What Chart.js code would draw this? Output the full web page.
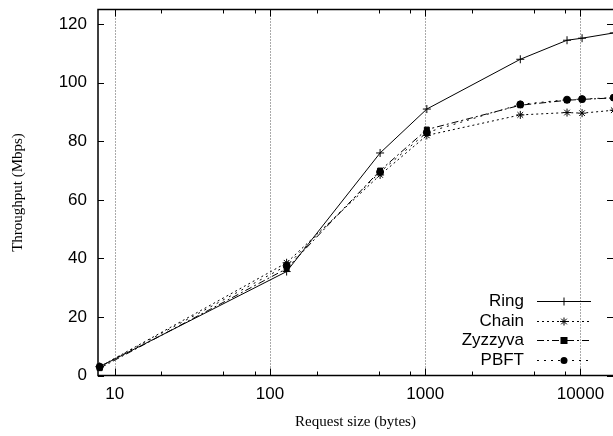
<!DOCTYPE html>
<html>
<head>
<meta charset="utf-8">
<script src="https://cdn.jsdelivr.net/npm/chart.js@4/dist/chart.umd.min.js"></script>
<style>
html,body{margin:0;padding:0;background:#fff;}
canvas{display:block;}
</style>
</head>
<body>
<canvas id="c" width="613" height="436"></canvas>
<script>
// ---- data ----
const requestSizes = [8, 128, 512, 1024, 4096, 8192, 10240, 16384];
const seriesNames = ["Ring", "Chain", "Zyzzyva", "PBFT"];
const ringValues    = [3.0, 35.5, 76.0, 91.0, 108.0, 114.5, 115.2, 117.0];
const chainValues   = [3.0, 38.5, 68.5, 82.0, 89.0, 89.8, 89.6, 90.6];
const zyzzyvaValues = [2.5, 36.5, 70.0, 84.0, 92.3, 94.0, 94.3, 94.8];
const pbftValues    = [3.0, 37.5, 69.5, 83.0, 92.6, 94.2, 94.4, 94.9];
const xTickValues = [10, 100, 1000, 10000];
const yTickValues = [0, 20, 40, 60, 80, 100, 120];
const xMinorTickValues = [20, 50, 80, 200, 500, 800, 2000, 5000, 8000];

const styles = [
  {dash: [], point: 'cross', radius: 4},
  {dash: [2, 3], point: 'star', radius: 4},
  {dash: [7, 3, 2, 3], point: 'rect', radius: 3.5},
  {dash: [2, 5], point: 'circle', radius: 3.5}
];
const allValues = [ringValues, chainValues, zyzzyvaValues, pbftValues];

function drawMarker(ctx, style, x, y, r) {
  ctx.save();
  ctx.setLineDash([]);
  ctx.fillStyle = '#000';
  ctx.strokeStyle = '#000';
  ctx.lineWidth = 1;
  ctx.beginPath();
  if (style === 'cross') {
    ctx.moveTo(x - r, y); ctx.lineTo(x + r, y);
    ctx.moveTo(x, y - r); ctx.lineTo(x, y + r);
    ctx.stroke();
  } else if (style === 'star') {
    ctx.moveTo(x - r, y); ctx.lineTo(x + r, y);
    ctx.moveTo(x, y - r); ctx.lineTo(x, y + r);
    const d = r * 0.707;
    ctx.moveTo(x - d, y - d); ctx.lineTo(x + d, y + d);
    ctx.moveTo(x - d, y + d); ctx.lineTo(x + d, y - d);
    ctx.stroke();
  } else if (style === 'rect') {
    ctx.fillRect(x - r, y - r, 2 * r, 2 * r);
  } else {
    ctx.arc(x, y, r, 0, Math.PI * 2);
    ctx.fill();
  }
  ctx.restore();
}

const PLOT_RIGHT = 613;

const decor = {
  id: 'decor',
  afterLayout(chart) {
    // extend the plot area to the right edge (the reference is cropped there)
    const x = chart.scales.x;
    const a = chart.chartArea;
    a.right = PLOT_RIGHT;
    a.width = a.right - a.left;
    x.right = PLOT_RIGHT;
    x.width = x.right - x.left;
    if (typeof x.configure === 'function') x.configure();
    x._labelItems = null;
  },
  beforeDatasetsDraw(chart) {
    const {ctx, chartArea: a, scales: {x}} = chart;
    ctx.save();
    ctx.strokeStyle = '#555';
    ctx.lineWidth = 1;
    ctx.setLineDash([1, 2]);
    xTickValues.forEach(v => {
      const px = Math.round(x.getPixelForValue(v)) + 0.5;
      ctx.beginPath(); ctx.moveTo(px, a.top); ctx.lineTo(px, a.bottom); ctx.stroke();
    });
    ctx.restore();
  },
  afterDatasetsDraw(chart) {
    const {ctx, chartArea: a, scales: {x, y}} = chart;
    ctx.save();
    ctx.strokeStyle = '#000';
    ctx.setLineDash([]);
    ctx.lineWidth = 1;
    // tick marks (inward)
    ctx.beginPath();
    yTickValues.forEach(v => {
      const py = Math.round(y.getPixelForValue(v)) + 0.5;
      ctx.moveTo(a.left, py); ctx.lineTo(a.left + 6, py);
      ctx.moveTo(a.right, py); ctx.lineTo(a.right - 6, py);
    });
    xMinorTickValues.forEach(v => {
      const px = Math.round(x.getPixelForValue(v)) + 0.5;
      ctx.moveTo(px, a.bottom); ctx.lineTo(px, a.bottom - 4);
      ctx.moveTo(px, a.top); ctx.lineTo(px, a.top + 4);
    });
    xTickValues.forEach(v => {
      const px = Math.round(x.getPixelForValue(v)) + 0.5;
      ctx.moveTo(px, a.bottom); ctx.lineTo(px, a.bottom - 7);
      ctx.moveTo(px, a.top); ctx.lineTo(px, a.top + 7);
    });
    ctx.stroke();
    // frame
    ctx.lineWidth = 1.5;
    ctx.strokeRect(a.left, a.top, a.right - a.left + 3, a.bottom - a.top);
    // legend
    ctx.font = '17px "Liberation Sans", Arial, sans-serif';
    ctx.textAlign = 'right';
    ctx.textBaseline = 'middle';
    ctx.fillStyle = '#000';
    const rows = [301, 321, 340, 360];
    seriesNames.forEach((name, i) => {
      const ly = rows[i] + 0.5;
      ctx.fillText(name, 524, ly);
      ctx.save();
      ctx.lineWidth = 1;
      ctx.setLineDash(styles[i].dash);
      ctx.beginPath(); ctx.moveTo(537, ly); ctx.lineTo(591, ly); ctx.stroke();
      ctx.restore();
      drawMarker(ctx, styles[i].point, 564, ly, styles[i].radius);
    });
    ctx.restore();
  }
};

const datasets = seriesNames.map((name, i) => ({
  label: name,
  data: requestSizes.map((s, j) => ({x: s, y: allValues[i][j]})),
  borderColor: '#000',
  backgroundColor: '#000',
  borderWidth: 1,
  borderDash: styles[i].dash,
  pointStyle: styles[i].point,
  pointRadius: styles[i].radius,
  pointBorderWidth: 1,
  pointBorderColor: '#000',
  pointBackgroundColor: '#000',
  tension: 0,
  fill: false,
  clip: false
}));

new Chart(document.getElementById('c'), {
  type: 'line',
  data: {datasets},
  plugins: [decor],
  options: {
    responsive: false,
    animation: false,
    devicePixelRatio: 1,
    layout: {padding: {top: 9.5, right: 0, left: 0, bottom: 0}},
    plugins: {legend: {display: false}, tooltip: {enabled: false}},
    scales: {
      x: {
        type: 'logarithmic',
        min: 7.8,
        max: 16200,
        afterBuildTicks: s => { s.ticks = xTickValues.map(v => ({value: v})); },
        afterFit: s => { s.height = 60.5; s.paddingLeft = 0; s.paddingRight = 0; },
        grid: {display: false, drawTicks: false},
        border: {display: false},
        ticks: {
          autoSkip: false, maxRotation: 0, padding: 9, color: '#000',
          font: {family: '"Liberation Sans", Arial, sans-serif', size: 17},
          callback: v => String(v)
        },
        title: {
          display: true, text: 'Request size (bytes)', color: '#000',
          font: {family: '"Liberation Serif", "Times New Roman", serif', size: 15},
          padding: {top: 0, bottom: 5}
        }
      },
      y: {
        type: 'linear',
        min: 0,
        max: 125,
        afterBuildTicks: s => { s.ticks = yTickValues.map(v => ({value: v})); },
        afterFit: s => { s.width = 98; s.paddingTop = 0; s.paddingBottom = 0; },
        grid: {display: false, drawTicks: false},
        border: {display: false},
        ticks: {
          padding: 11, color: '#000',
          font: {family: '"Liberation Sans", Arial, sans-serif', size: 17}
        },
        title: {
          display: true, text: 'Throughput (Mbps)', color: '#000',
          font: {family: '"Liberation Serif", "Times New Roman", serif', size: 15},
          padding: {top: 9, bottom: 0}
        }
      }
    }
  }
});
</script>
</body>
</html>
